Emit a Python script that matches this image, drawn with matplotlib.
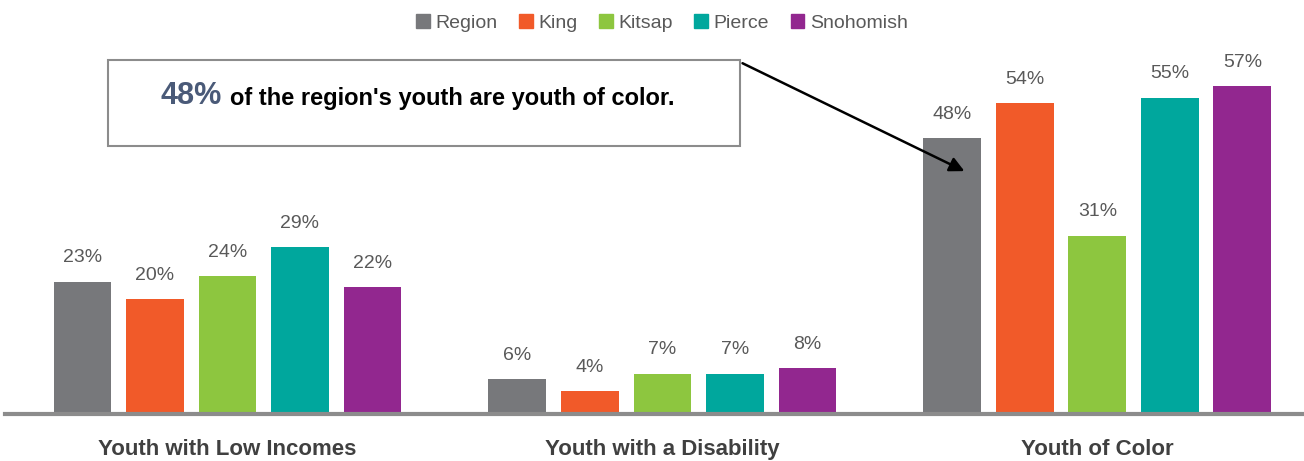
import matplotlib.pyplot as plt
import numpy as np
from matplotlib.patches import Rectangle, Patch

plt.rcParams['font.family'] = ['Liberation Sans Narrow', 'Liberation Sans', 'DejaVu Sans']

categories = ['Youth with Low Incomes', 'Youth with a Disability', 'Youth of Color']
series = ['Region', 'King', 'Kitsap', 'Pierce', 'Snohomish']
colors = ['#77787b', '#f15a29', '#8dc63f', '#00a79d', '#92278f']
values = {
    'Region': [23, 6, 48],
    'King': [20, 4, 54],
    'Kitsap': [24, 7, 31],
    'Pierce': [29, 7, 55],
    'Snohomish': [22, 8, 57],
}

fig = plt.figure(figsize=(13.04, 4.61), dpi=100)
ax = fig.add_axes([5 / 1304, 47 / 461, 1299 / 1304, 374 / 461])

x = np.arange(len(categories))
step = 0.1667
width = 0.133
for i, name in enumerate(series):
    pos = x + (i - 2) * step
    bars = ax.bar(pos, values[name], width, color=colors[i], label=name)
    for b, v in zip(bars, values[name]):
        ax.annotate(f'{v}%', (b.get_x() + b.get_width() / 2, v),
                    xytext=(0, 11), textcoords='offset points',
                    ha='center', va='bottom', fontsize=14, color='#595959')

ax.set_xlim(-0.5115, 2.475)
ax.set_ylim(0, 65)
for s in ['top', 'right', 'left']:
    ax.spines[s].set_visible(False)
ax.spines['bottom'].set_color('#8c8c8c')
ax.spines['bottom'].set_linewidth(3)
ax.set_yticks([])
ax.set_xticks(x)
ax.set_xticklabels(categories, fontsize=16, fontweight='bold', color='#404040')
ax.tick_params(axis='x', length=0, pad=18)

handles = [Patch(color=c, label=n) for c, n in zip(colors, series)]
fig.legend(handles=handles, loc='center', bbox_to_anchor=(662 / 1304, 1 - 23 / 461),
           ncol=5, frameon=False, fontsize=14, labelcolor='#595959',
           handlelength=0.7, handleheight=0.7, handletextpad=0.3, columnspacing=1.1)

# callout box
fig.patches.append(Rectangle((108 / 1304, 1 - 146 / 461), 632 / 1304, 86 / 461,
                             transform=fig.transFigure, facecolor='white',
                             edgecolor='#8c8c8c', linewidth=1.5, zorder=5))
fig.text(222 / 1304, 1 - 96 / 461, '48%', ha='right', va='center', fontsize=22,
         fontweight='bold', color='#4a5a78', zorder=6)
fig.text(230 / 1304, 1 - 98 / 461, "of the region's youth are youth of color.",
         ha='left', va='center', fontsize=17, fontweight='bold', color='black', zorder=6)

ax.annotate('', xy=(1.7, 42.0), xycoords='data',
            xytext=(740 / 1304, 1 - 62 / 461), textcoords='figure fraction',
            arrowprops=dict(arrowstyle='-|>', color='black', lw=1.8, mutation_scale=22))

fig.savefig('out.png', dpi=100)
